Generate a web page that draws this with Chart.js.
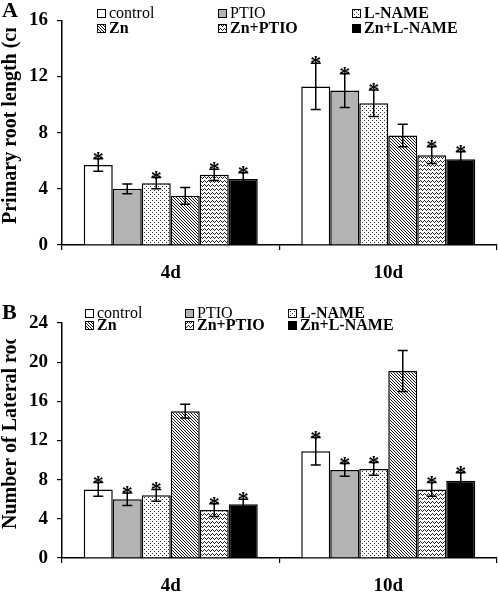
<!DOCTYPE html>
<html>
<head>
<meta charset="utf-8">
<script src="https://cdn.jsdelivr.net/npm/chart.js@4.4.0/dist/chart.umd.min.js"></script>
<style>
  html, body { margin: 0; padding: 0; background: #fff; }
  canvas { display: block; }
</style>
</head>
<body>
<canvas id="rootA" width="498" height="297"></canvas>
<canvas id="rootB" width="498" height="297"></canvas>
<script>
const days = ["4d", "10d"];
const treatments = ["control", "PTIO", "L-NAME", "Zn", "Zn+PTIO", "Zn+L-NAME"];

// A: primary root length (cm), one value per treatment
const lengthMean4d = [5.7, 4.0, 4.4, 3.5, 5.0, 4.7];
const lengthMean10d = [11.3, 11.0, 10.1, 7.8, 6.4, 6.1];
const lengthErr4d = [0.45, 0.35, 0.4, 0.6, 0.4, 0.45];
const lengthErr10d = [1.65, 1.2, 0.95, 0.8, 0.6, 0.55];
const lengthStar4d = [true, false, true, false, true, true];
const lengthStar10d = [true, true, true, false, true, true];

// B: number of lateral roots
const lateralMean4d = [7.0, 6.0, 6.4, 15.0, 4.9, 5.5];
const lateralMean10d = [10.9, 9.0, 9.1, 19.1, 7.0, 7.9];
const lateralErr4d = [0.7, 0.65, 0.6, 0.7, 0.65, 0.5];
const lateralErr10d = [1.4, 0.65, 0.65, 2.1, 0.7, 0.8];
const lateralStar4d = [true, true, true, false, true, true];
const lateralStar10d = [true, true, true, false, true, true];

const serif = "'Liberation Serif', 'Times New Roman', serif";

const makePattern = (kind) => {
  const c = document.createElement("canvas");
  const g = c.getContext("2d");
  if (kind === "dots") {
    c.width = c.height = 4;
    g.fillStyle = "#fff";
    g.fillRect(0, 0, 4, 4);
    g.fillStyle = "#333";
    g.fillRect(0, 0, 1, 1);
    g.fillRect(2, 2, 1, 1);
  } else if (kind === "diag") {
    c.width = c.height = 3;
    g.fillStyle = "#fff";
    g.fillRect(0, 0, 3, 3);
    g.fillStyle = "#111";
    for (let i = 0; i < 3; i++) g.fillRect(i, i, 1, 1);
  } else {
    c.width = c.height = 4;
    g.fillStyle = "#fff";
    g.fillRect(0, 0, 4, 4);
    g.fillStyle = "#222";
    [0, 1, 2, 1].forEach((y, x) => g.fillRect(x, y, 1, 1));
  }
  return g.createPattern(c, "repeat");
};

const fills = [
  "#ffffff",
  "#b3b3b3",
  makePattern("dots"),
  makePattern("diag"),
  makePattern("zigzag"),
  "#000000",
];

// error bars + significance stars, placed through the y scale
const errorBars = {
  id: "errorBars",
  afterDatasetsDraw(chart, args, opts) {
    const { ctx } = chart;
    const y = chart.scales.y;
    ctx.save();
    ctx.strokeStyle = "#000";
    ctx.lineWidth = 1.5;
    chart.data.datasets.forEach((ds, i) => {
      const meta = chart.getDatasetMeta(i);
      meta.data.forEach((bar, j) => {
        const err = opts.errors[j][i];
        const top = y.getPixelForValue(ds.data[j] + err);
        const bot = y.getPixelForValue(ds.data[j] - err);
        ctx.beginPath();
        ctx.moveTo(bar.x, top);
        ctx.lineTo(bar.x, bot);
        ctx.moveTo(bar.x - 5, top);
        ctx.lineTo(bar.x + 5, top);
        ctx.moveTo(bar.x - 5, bot);
        ctx.lineTo(bar.x + 5, bot);
        ctx.stroke();
        if (opts.stars[j][i]) {
          ctx.fillStyle = "#000";
          ctx.font = `bold 22px ${serif}`;
          ctx.textAlign = "center";
          ctx.textBaseline = "alphabetic";
          ctx.fillText("*", bar.x, top + 7);
        }
      });
    });
    ctx.restore();
  },
};

// panel letter, legend in three columns, rotated y title
const panelDecor = {
  id: "panelDecor",
  afterDraw(chart, args, opts) {
    const { ctx, chartArea } = chart;
    ctx.save();
    ctx.fillStyle = "#000";
    ctx.textBaseline = "middle";
    ctx.textAlign = "left";
    ctx.font = `bold 22px ${serif}`;
    ctx.fillText(opts.letter, 2, opts.letterY);

    chart.data.datasets.forEach((ds, i) => {
      const x = opts.cols[i % 3];
      const yy = opts.rows[Math.floor(i / 3)];
      ctx.fillStyle = ds.backgroundColor;
      ctx.fillRect(x, yy - 4, 8, 8);
      ctx.strokeStyle = "#000";
      ctx.lineWidth = 1;
      ctx.strokeRect(x + 0.5, yy - 3.5, 8, 8);
      ctx.fillStyle = "#000";
      const bold = ds.label.startsWith("Zn") || ds.label === "L-NAME";
      ctx.font = `${bold ? "bold " : ""}16px ${serif}`;
      ctx.fillText(ds.label, x + 12, yy + 1);
    });

    // the source figure cuts the axis title off near the top
    ctx.save();
    ctx.beginPath();
    ctx.rect(0, opts.clipTop, 40, chart.height);
    ctx.clip();
    ctx.translate(11, chartArea.bottom - opts.titleInset);
    ctx.rotate(-Math.PI / 2);
    ctx.font = `bold 20px ${serif}`;
    ctx.textAlign = "left";
    ctx.fillText(opts.title, 0, 0);
    ctx.restore();
    ctx.restore();
  },
};

const buildChart = (id, means4d, means10d, errs4d, errs10d, stars4d, stars10d, max, decor, top, xHeight) => {
  const tickFont = { family: serif, size: 19, weight: "bold" };
  return new Chart(document.getElementById(id), {
    type: "bar",
    data: {
      labels: days,
      datasets: treatments.map((t, i) => ({
        label: t,
        data: [means4d[i], means10d[i]],
        backgroundColor: fills[i],
        borderColor: "#000",
        borderWidth: 1.5,
        categoryPercentage: 0.8,
        barPercentage: 1.0,
      })),
    },
    options: {
      responsive: false,
      animation: false,
      layout: { padding: { top: top, right: 1, left: 0, bottom: 0 } },
      plugins: {
        legend: { display: false },
        tooltip: { enabled: false },
        errorBars: { errors: [errs4d, errs10d], stars: [stars4d, stars10d] },
        panelDecor: decor,
      },
      scales: {
        x: {
          grid: { drawOnChartArea: false, tickLength: 5, color: "#000", lineWidth: 1.2, offset: true },
          border: { color: "#000", width: 1.5 },
          ticks: { font: tickFont, color: "#000", padding: 12 },
          afterFit(s) { s.height = xHeight; },
        },
        y: {
          min: 0,
          max: max,
          ticks: { stepSize: 4, font: tickFont, color: "#000", padding: 9 },
          grid: { drawOnChartArea: false, tickLength: 5, color: "#000", lineWidth: 1.2 },
          border: { color: "#000", width: 1.5 },
          afterFit(s) { s.width = 62; },
        },
      },
    },
    plugins: [errorBars, panelDecor],
  });
};

buildChart("rootA", lengthMean4d, lengthMean10d, lengthErr4d, lengthErr10d, lengthStar4d, lengthStar10d, 16, {
  letter: "A", letterY: 11, cols: [97, 218, 352], rows: [13, 28],
  title: "Primary root length (cm)", titleInset: 21, clipTop: 28,
}, 12, 52);

buildChart("rootB", lateralMean4d, lateralMean10d, lateralErr4d, lateralErr10d, lateralStar4d, lateralStar10d, 24, {
  letter: "B", letterY: 16, cols: [85, 185, 288], rows: [16, 28],
  title: "Number of Lateral roots", titleInset: 29, clipTop: 42,
}, 26, 36);
</script>
</body>
</html>
